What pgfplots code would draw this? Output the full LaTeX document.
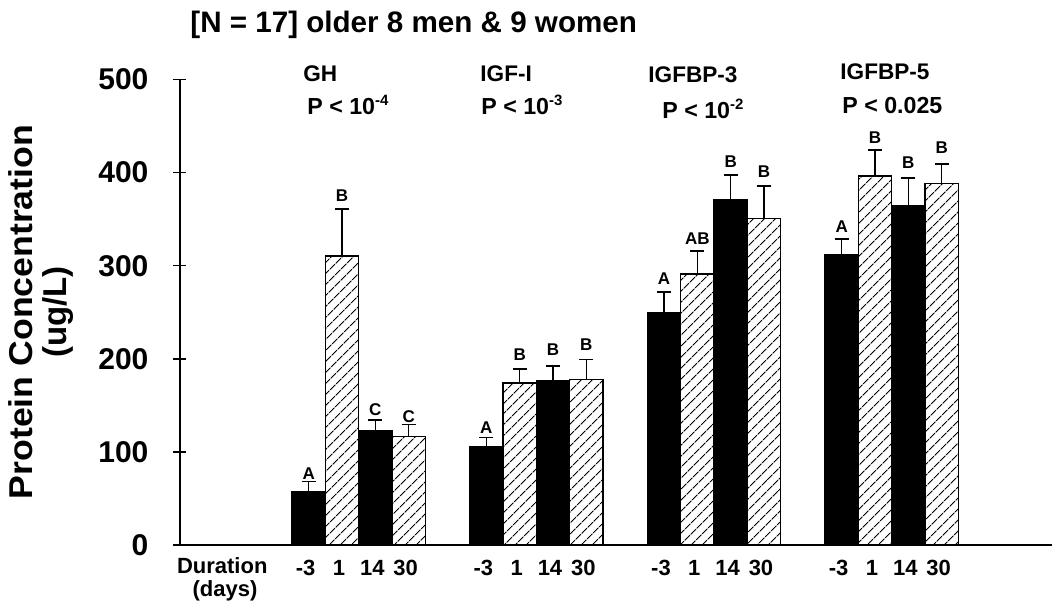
\documentclass[border=0pt]{standalone}
\usepackage{fontspec}
\setmainfont{Liberation Sans}
\usepackage{graphicx}
\usepackage{pgfplots}
\pgfplotsset{compat=1.18}
\usetikzlibrary{patterns.meta}
\newcommand\ex[1]{\raisebox{0.75ex}{\fontsize{7.5}{8}\selectfont #1}}

\pgfplotstableread{
x y e
3.86 57.5 10.5
5.86 122.5 11.5
9.19 105.5 10
11.19 176 16.5
14.52 250 22
16.52 370.5 27
19.85 311.5 17
21.85 364.5 29.5
}\blackbars

\pgfplotstableread{
x y e
4.86 310.5 50.5
6.86 116.5 13
10.19 174 15
12.19 178 21.5
15.52 291 25
17.52 351 34.5
20.85 396.5 28
22.85 388.5 21
}\hatchbars

\pgfplotstableread{
x y t
3.86 77 A
4.86 375 B
5.86 145 C
6.86 138 C
9.19 126 A
10.19 204 B
11.19 209.5 B
12.19 215.5 B
14.52 286 A
15.52 329 AB
16.52 411.5 B
17.52 401 B
19.85 342 A
20.85 437.5 B
21.85 411 B
22.85 427 B
}\letters

\begin{document}
\begin{tikzpicture}[x=1pt,y=1pt]
\path[use as bounding box] (0,0) rectangle (528.5,303);
\begin{axis}[
  at={(90pt,30.5pt)}, anchor=south west,
  scale only axis, width=436pt, height=232.75pt,
  xmin=0, xmax=26.16, ymin=0, ymax=500,
  axis x line=bottom, axis y line=left,
  axis line style={-, line width=0.75pt, black},
  ytick={0,100,200,300,400,500},
  tick align=center, major tick length=6.5pt,
  ytick style={line width=0.75pt, black},
  xtick={3.86,4.86,5.86,6.86,9.19,10.19,11.19,12.19,14.52,15.52,16.52,17.52,19.85,20.85,21.85,22.85},
  xticklabels={-3,1,14,30,-3,1,14,30,-3,1,14,30,-3,1,14,30},
  xtick style={draw=none},
  /pgf/number format/assume math mode=true,
  yticklabel style={font=\fontsize{15}{18}\selectfont\bfseries, xshift=-9pt},
  xticklabel style={font=\fontsize{11}{13}\selectfont\bfseries, xshift=-1.5pt, yshift=-1pt},
  clip=false,
]
\addplot[ybar, bar width=1, bar shift=0pt, fill=black, draw=black, line width=0.7pt,
  error bars/.cd, y dir=plus, y explicit,
  error bar style={line width=0.75pt, black},
  error mark options={rotate=90, line width=0.75pt, mark size=3.5pt, black}]
  table[x=x, y=y, y error=e] {\blackbars};
\addplot[ybar, bar width=1, bar shift=0pt, fill=white, draw=black, line width=0.7pt,
  pattern={Lines[angle=45,distance=4pt,line width=0.5pt]},
  error bars/.cd, y dir=plus, y explicit,
  error bar style={line width=0.75pt, black},
  error mark options={rotate=90, line width=0.75pt, mark size=3.5pt, black}]
  table[x=x, y=y, y error=e] {\hatchbars};
\addplot[draw=none, mark=none, nodes near coords, point meta=explicit symbolic,
  every node near coord/.append style={anchor=center, font=\fontsize{8.5}{10}\selectfont\bfseries}]
  table[x=x, y=y, meta=t] {\letters};
\end{axis}
\draw[line width=0.75pt] (86.5,30.5) -- (90,30.5);
\node[anchor=base west, inner sep=0pt, font=\fontsize{14.8}{17}\selectfont\bfseries] at (95,286.75) {[N = 17] older 8 men \& 9 women};
\node[rotate=90, align=center, inner sep=0pt, font=\fontsize{16.5}{17}\selectfont\bfseries] at (20.5,147) {\scalebox{1.08}[1]{Protein Concentration}\\(ug/L)};
\begin{scope}[every node/.style={anchor=base west, inner sep=0pt}]
\node[font=\fontsize{11.3}{13}\selectfont\bfseries] at (151.5,262) {GH};
\node[font=\fontsize{11.6}{13}\selectfont\bfseries] at (153.5,245.85) {P < 10\ex{-4}};
\node[font=\fontsize{11.3}{13}\selectfont\bfseries] at (240,262) {IGF-I};
\node[font=\fontsize{11.6}{13}\selectfont\bfseries] at (240.5,245.85) {P < 10\ex{-3}};
\node[font=\fontsize{11.3}{13}\selectfont\bfseries] at (324,261.75) {IGFBP-3};
\node[font=\fontsize{11.6}{13}\selectfont\bfseries] at (331,243.85) {P < 10\ex{-2}};
\node[font=\fontsize{11.3}{13}\selectfont\bfseries] at (420,263) {IGFBP-5};
\node[font=\fontsize{11.6}{13}\selectfont\bfseries] at (421,246.35) {P < 0.025};
\end{scope}
\node[anchor=west, inner sep=0pt, font=\fontsize{11}{13}\selectfont\bfseries] at (88.3,20.25) {Duration};
\node[inner sep=0pt, font=\fontsize{11}{13}\selectfont\bfseries] at (112.5,7.5) {(days)};
\end{tikzpicture}
\end{document}
